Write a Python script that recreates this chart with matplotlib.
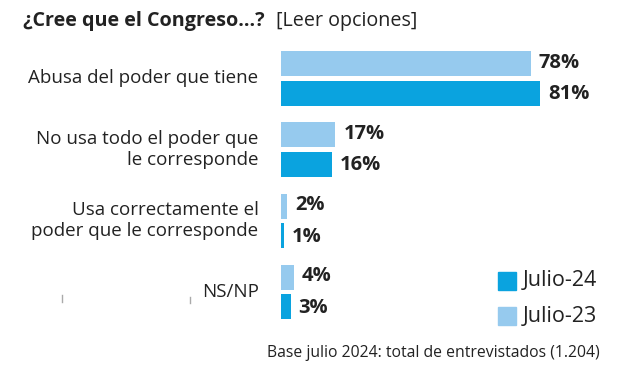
import numpy as np
import matplotlib.pyplot as plt
from matplotlib.patches import Rectangle
from matplotlib.lines import Line2D

categories = ["Abusa del poder que tiene",
              "No usa todo el poder que\nle corresponde",
              "Usa correctamente el\npoder que le corresponde",
              "NS/NP"]
julio23 = [78, 17, 2, 4]
julio24 = [81, 16, 1, 3]
series_names = ["Julio-24", "Julio-23"]

light = "#96caee"
dark = "#0aa3df"
txt = "#222222"

plt.rcParams['font.family'] = ['Open Sans', 'DejaVu Sans']

fig = plt.figure(figsize=(6.4, 3.74), dpi=100)
# axes in pixel-ish units: x = percent, y = pixel rows from top
ax = fig.add_axes([281 / 640, 0, 0.5, 1])
ax.set_xlim(0, 100)
ax.set_ylim(374, 0)
ax.axis("off")

group_top = 63.5
group_step = 71.3
bar_h = 25
gap = 29.5

for i, cat in enumerate(categories):
    y23 = group_top + i * group_step
    y24 = y23 + gap
    ax.barh(y23, julio23[i], height=bar_h, color=light)
    ax.barh(y24, julio24[i], height=bar_h, color=dark)
    ax.text(julio23[i] + 2.5, y23 - 1, f"{julio23[i]}%", ha="left", va="center",
            fontsize=14.5, fontweight="bold", color=txt)
    ax.text(julio24[i] + 2.5, y24 + 1, f"{julio24[i]}%", ha="left", va="center",
            fontsize=14.5, fontweight="bold", color=txt)
    ax.text(-7, (y23 + y24) / 2, cat, ha="right", va="center", fontsize=13.5,
            color=txt, linespacing=1.2, clip_on=False)

# title
fig.text(23 / 640, 1 - 21 / 374, "¿Cree que el Congreso…?", fontsize=14.2,
         fontweight="bold", color=txt, va="center")
fig.text(276 / 640, 1 - 21 / 374, "[Leer opciones]", fontsize=14.2,
         color=txt, va="center")

# legend
for j, (name, col) in enumerate(zip(series_names, [dark, light])):
    yy = 281 + j * 35
    fig.patches.append(Rectangle((498 / 640, 1 - (yy + 9) / 374), 18 / 640, 18 / 374,
                                 transform=fig.transFigure, color=col))
    fig.text(523 / 640, 1 - yy / 374, name, fontsize=15.5, color=txt, va="center")

fig.text(600 / 640, 1 - 353 / 374, "Base julio 2024: total de entrevistados (1.204)",
         fontsize=11.3, color=txt, ha="right", va="center")

# faint stray marks present in the source image
for xm, y0, y1 in [(62, 295, 302), (190, 297, 303)]:
    fig.add_artist(Line2D([xm / 640, xm / 640], [1 - y0 / 374, 1 - y1 / 374],
                          transform=fig.transFigure, color="#aaaaaa", lw=1))

fig.savefig("out.png", dpi=100)
